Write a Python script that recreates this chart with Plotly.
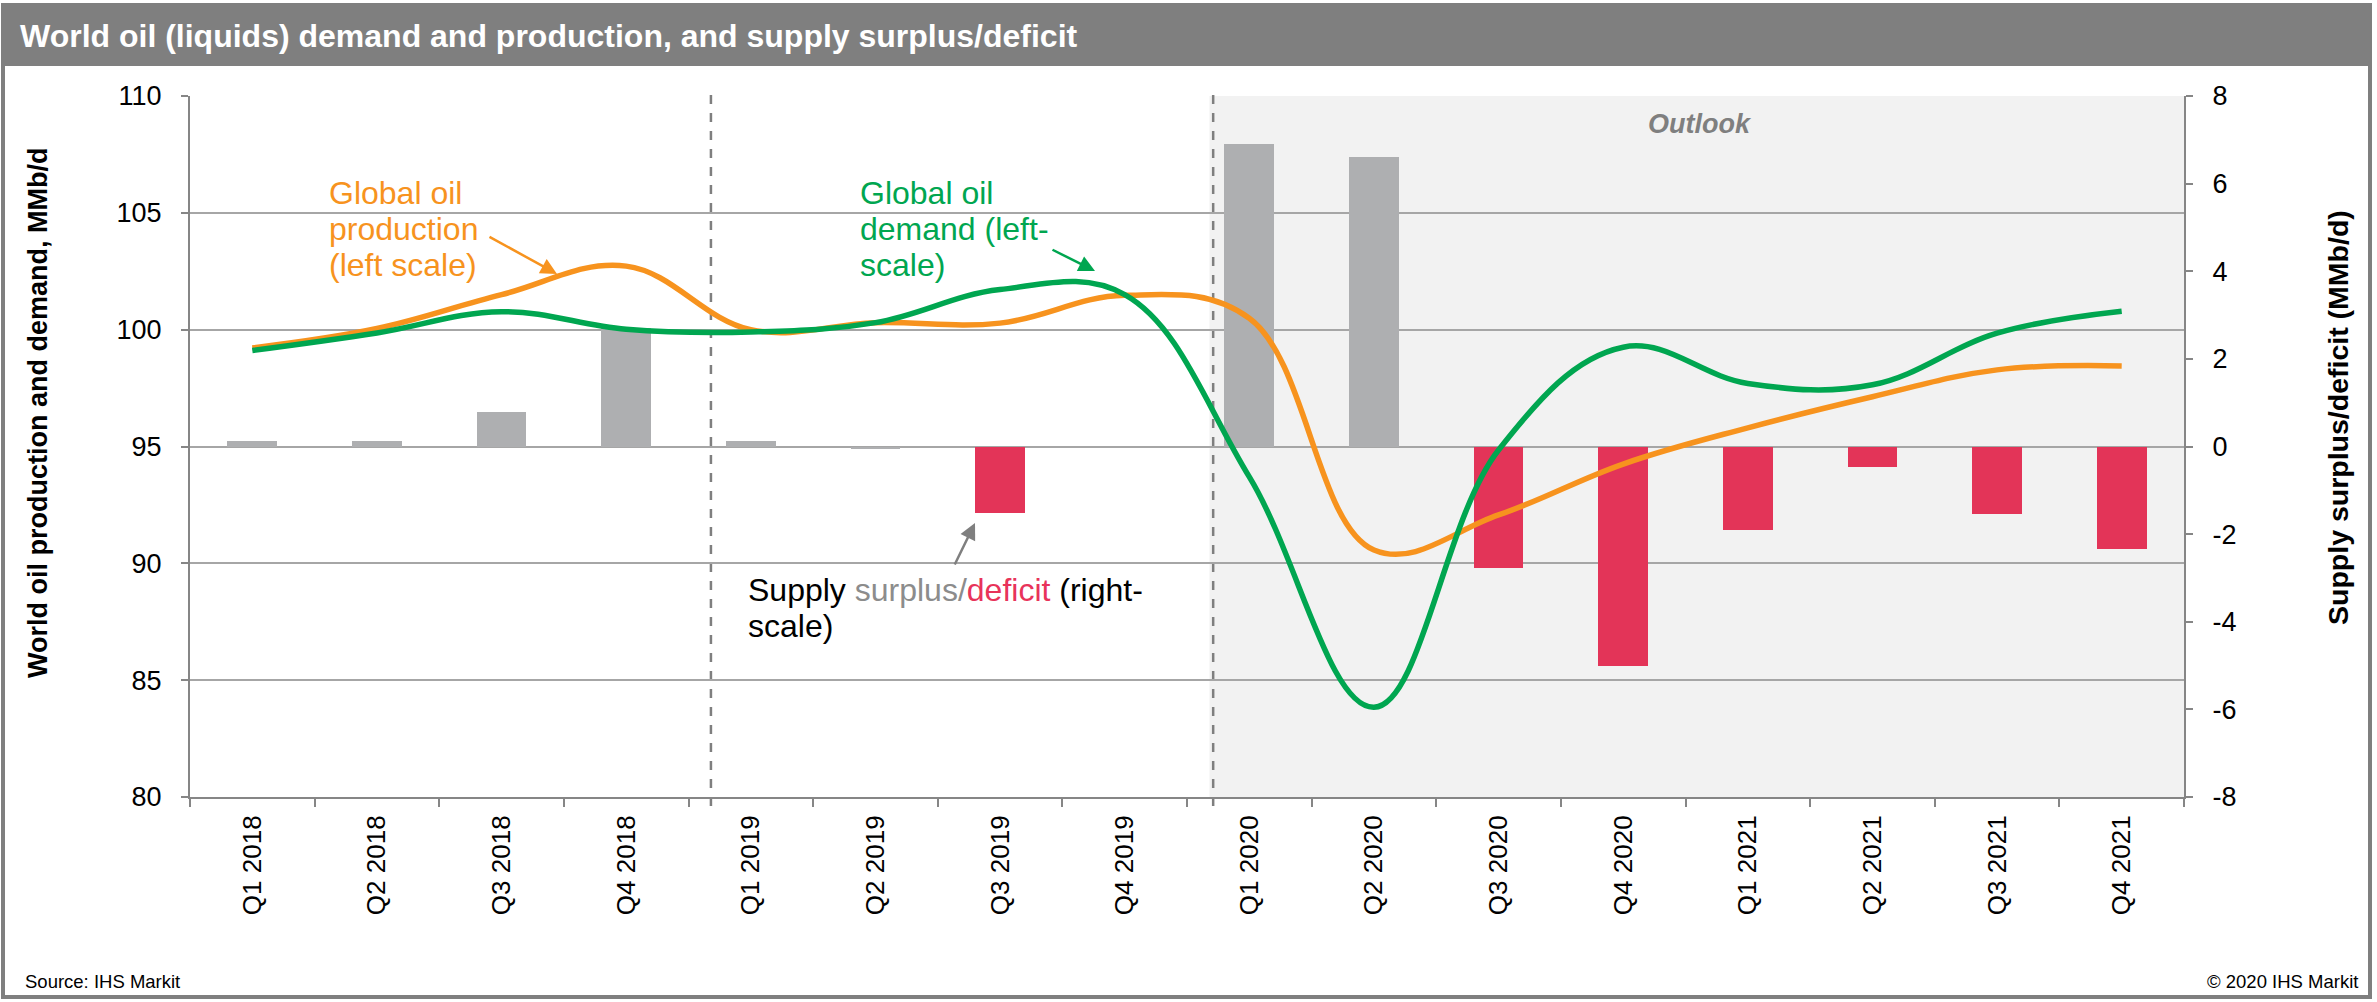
import plotly.graph_objects as go

# ---------------- data ----------------
quarters = ["Q1 2018", "Q2 2018", "Q3 2018", "Q4 2018",
            "Q1 2019", "Q2 2019", "Q3 2019", "Q4 2019",
            "Q1 2020", "Q2 2020", "Q3 2020", "Q4 2020",
            "Q1 2021", "Q2 2021", "Q3 2021", "Q4 2021"]
demand = [99.11, 99.86, 100.77, 100.02, 99.90, 100.30, 101.72, 101.50,
          93.70, 83.84, 94.85, 99.25, 97.70, 97.64, 99.85, 100.79]
production = [99.22, 100.05, 101.50, 102.72, 100.00, 100.30, 100.28, 101.47,
              100.49, 90.57, 92.07, 94.25, 95.80, 97.13, 98.28, 98.45]
balance = [0.12, 0.12, 0.78, 2.71, 0.12, -0.05, -1.52, 0.00,
           6.91, 6.60, -2.77, -5.00, -1.90, -0.46, -1.54, -2.34]
left_ticks = [80, 85, 90, 95, 100, 105, 110]
right_ticks = [-8, -6, -4, -2, 0, 2, 4, 6, 8]
right_labels = [str(v) for v in right_ticks]
year_breaks = [3.68, 7.71]   # dashed separators (category-index units)
outlook_start = 7.68

# ---------------- styles ----------------
FONT = "Liberation Sans, Arial, sans-serif"
ORANGE = "#F7931E"
GREEN = "#00A650"
GREY_BAR = "#AEAFB1"
RED_BAR = "#E33458"
FRAME = "#7F7F7F"
AXIS = "#868686"
GRID = "#A6A6A6"

W, H = 2377, 1002
L, R, T, B = 190, 2184, 96, 797


def px(x):
    return (x - L) / (R - L)


def py(y):
    return (B - y) / (B - T)


bar_colors = [RED_BAR if v <= -0.25 else GREY_BAR for v in balance]

fig = go.Figure()
fig.add_trace(go.Bar(x=quarters, y=balance, marker=dict(color=bar_colors, line=dict(width=0)),
                     width=0.4, yaxis="y", hoverinfo="x+y"))
fig.add_trace(go.Scatter(x=quarters, y=production, mode="lines", yaxis="y2",
                         line=dict(color=ORANGE, width=5.5, shape="spline", smoothing=1.1)))
fig.add_trace(go.Scatter(x=quarters, y=demand, mode="lines", yaxis="y2",
                         line=dict(color=GREEN, width=5.5, shape="spline", smoothing=1.1)))

shapes = []
# outer frame and title bar
shapes.append(dict(type="rect", xref="paper", yref="paper", x0=px(3), x1=px(2370), y0=py(5), y1=py(997),
                   line=dict(color=FRAME, width=4), fillcolor="rgba(0,0,0,0)", layer="above"))
shapes.append(dict(type="rect", xref="paper", yref="paper", x0=px(3), x1=px(2370), y0=py(5), y1=py(66),
                   line=dict(width=0), fillcolor=FRAME, layer="above"))
# outlook shading
shapes.append(dict(type="rect", xref="x", yref="paper", x0=outlook_start, x1=15.5, y0=0, y1=1,
                   line=dict(width=0), fillcolor="#F2F2F2", layer="below"))
# dashed separators
for xb in year_breaks:
    shapes.append(dict(type="line", xref="x", yref="paper", x0=xb, x1=xb, y0=py(806), y1=1.005,
                       line=dict(color="#7F7F7F", width=2.5, dash="dash"), layer="between"))

ann = []


def text(x, y, s, size, color="black", xanchor="left", bold=False, italic=False, angle=0):
    if bold:
        s = "<b>" + s + "</b>"
    if italic:
        s = "<i>" + s + "</i>"
    ann.append(dict(xref="paper", yref="paper", x=px(x), y=py(y), text=s, showarrow=False,
                    xanchor=xanchor, yanchor="middle", textangle=angle,
                    font=dict(family=FONT, size=size, color=color)))


text(18, 36, "World oil (liquids) demand and production, and supply surplus/deficit", 32,
     color="white", bold=True)
text(38, 413, "World oil production and demand, MMb/d", 27, bold=True, xanchor="center", angle=-90)
text(2338, 418, "Supply surplus/deficit (MMb/d)", 28.5, bold=True, xanchor="center", angle=-90)
text(1700, 124, "Outlook", 27, color="#7F7F7F", bold=True, italic=True, xanchor="center")

for i, s in enumerate(["Global oil", "production", "(left scale)"]):
    text(327, 193 + 36 * i, s, 32, color=ORANGE)
for i, s in enumerate(["Global oil", "demand (left-", "scale)"]):
    text(858, 193 + 36 * i, s, 32, color=GREEN)
text(746, 590, "Supply <span style='color:#8C8C8C'>surplus/</span>"
     "<span style='color:#E8335A'>deficit</span> (right-", 32)
text(746, 626, "scale)", 32)

text(23, 981, "Source: IHS Markit", 18.5)
text(2360, 981, "© 2020 IHS Markit", 18.5, xanchor="right")


def arrow(tx, ty, hx, hy, color):
    ann.append(dict(xref="paper", yref="paper", x=px(hx), y=py(hy), ax=tx - hx, ay=ty - hy,
                    text="", showarrow=True, arrowhead=2, arrowsize=1.3, arrowwidth=2.5,
                    arrowcolor=color))


arrow(488, 236, 557, 274, ORANGE)
arrow(1051, 249, 1095, 271, GREEN)
arrow(954, 566, 975, 523, "#7F7F7F")

fig.update_layout(
    width=W, height=H,
    margin=dict(l=L, r=W - R, t=T, b=H - B),
    paper_bgcolor="white", plot_bgcolor="white",
    showlegend=False, bargap=0,
    font=dict(family=FONT, color="black"),
    shapes=shapes, annotations=ann,
    xaxis=dict(type="category", range=[-0.5, 15.5], tickson="boundaries", ticks="outside",
               ticklen=8, tickwidth=1.5, tickcolor=AXIS, showline=True, linecolor=AXIS, linewidth=2,
               tickangle=-90, tickfont=dict(size=26, family=FONT, color="black"),
               showgrid=False, ticklabelstandoff=6),
    yaxis=dict(range=[-8, 8], tickvals=right_ticks, ticktext=right_labels, side="right",
               showgrid=False, zeroline=False,
               ticks="outside", ticklen=7, tickwidth=1.5, tickcolor=AXIS, showline=True,
               linecolor=AXIS, linewidth=2, tickfont=dict(size=27, family=FONT, color="black"),
               ticklabelstandoff=14),
    yaxis2=dict(range=[80, 110], tickvals=left_ticks, side="left", overlaying="y",
                showgrid=True, gridcolor=GRID, gridwidth=1.5, zeroline=False,
                ticks="outside", ticklen=7, tickwidth=1.5, tickcolor=AXIS, showline=True,
                linecolor=AXIS, linewidth=2, tickfont=dict(size=27, family=FONT, color="black"),
                ticklabelstandoff=14),
)

fig.write_html("out.html", config={"displayModeBar": False},
               post_script="document.body.style.margin='0';document.body.style.overflow='hidden';")
